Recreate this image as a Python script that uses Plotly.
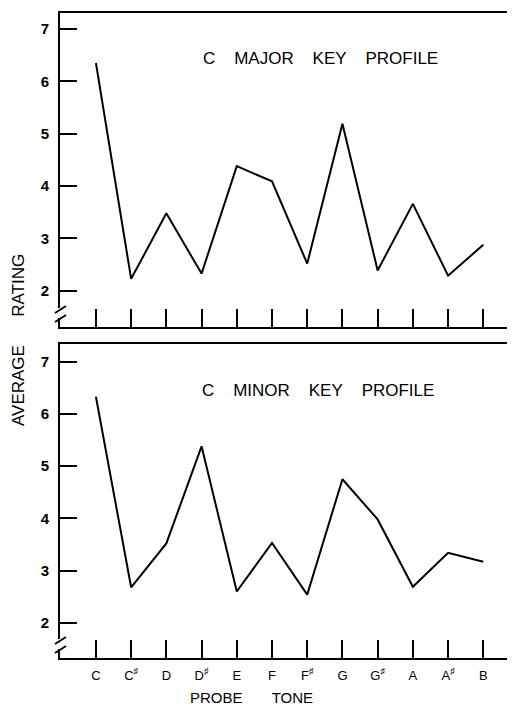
import plotly.graph_objects as go

tones = ["C", "C<sup>♯</sup>", "D", "D<sup>♯</sup>", "E", "F", "F<sup>♯</sup>", "G", "G<sup>♯</sup>", "A", "A<sup>♯</sup>", "B"]
major = [6.35, 2.23, 3.48, 2.33, 4.38, 4.09, 2.52, 5.19, 2.39, 3.66, 2.29, 2.88]
minor = [6.33, 2.68, 3.52, 5.38, 2.60, 3.53, 2.54, 4.75, 3.98, 2.69, 3.34, 3.17]
yticks = [2, 3, 4, 5, 6, 7]

OFF = 8  # page body margin
W, H = 515 - OFF, 705 - OFF
FONT = "Liberation Sans"
xpos = list(range(len(tones)))


def px_x(p):
    return (p - OFF) / W


def px_y(p):
    return 1 - (p - OFF) / H


fig = go.Figure()
fig.add_trace(go.Scatter(x=xpos, y=major, mode="lines", line=dict(color="black", width=2),
                         xaxis="x", yaxis="y", showlegend=False))
fig.add_trace(go.Scatter(x=xpos, y=minor, mode="lines", line=dict(color="black", width=2),
                         xaxis="x2", yaxis="y2", showlegend=False))

top_dom = [px_y(327), px_y(12.7)]
bot_dom = [px_y(658.3), px_y(344)]
xr = [-1.02, 11.9]

common_x = dict(range=xr, tickmode="array", tickvals=xpos, ticks="inside", ticklen=18,
                tickwidth=2, tickcolor="black", showline=True, linecolor="black", linewidth=2,
                mirror=True, showgrid=False, zeroline=False, domain=[px_x(60), 1])
common_y = dict(tickmode="array", tickvals=yticks, ticks="inside", ticklen=17, tickwidth=2,
                tickcolor="black", showline=True, linecolor="black", linewidth=2,
                showgrid=False, zeroline=False, ticklabelstandoff=6,
                tickfont=dict(family=FONT, size=15, color="black", weight="bold"))

fig.update_layout(
    width=W, height=H, margin=dict(l=0, r=0, t=0, b=0),
    paper_bgcolor="white", plot_bgcolor="white",
    xaxis=dict(**common_x, anchor="y", showticklabels=False),
    yaxis=dict(**common_y, range=[1.31, 7.31], domain=top_dom, anchor="x"),
    xaxis2=dict(**common_x, anchor="y2", ticktext=tones, showticklabels=True,
                tickfont=dict(family=FONT, size=13, color="black"), ticklabelstandoff=4),
    yaxis2=dict(**common_y, range=[1.32, 7.34], domain=bot_dom, anchor="x2"),
)

shapes = []
for (ya, yb) in [(304, 322), (635, 653)]:
    shapes.append(dict(type="rect", xref="paper", yref="paper",
                       x0=px_x(57), x1=px_x(63), y0=px_y(yb - 4), y1=px_y(ya + 4),
                       fillcolor="white", line=dict(width=0), layer="above"))
    shapes.append(dict(type="line", xref="paper", yref="paper",
                       x0=px_x(55), y0=px_y(ya + 9), x1=px_x(66), y1=px_y(ya + 2),
                       line=dict(color="black", width=2), layer="above"))
    shapes.append(dict(type="line", xref="paper", yref="paper",
                       x0=px_x(55), y0=px_y(yb), x1=px_x(66), y1=px_y(yb - 7),
                       line=dict(color="black", width=2), layer="above"))
fig.update_layout(shapes=shapes)

sp = "&nbsp;" * 4
ann_font = dict(family=FONT, size=17, color="black")
fig.add_annotation(x=px_x(320), y=px_y(58), xref="paper", yref="paper",
                   text=f"C{sp}MAJOR{sp}KEY{sp}PROFILE",
                   showarrow=False, font=ann_font, xanchor="center", yanchor="middle")
fig.add_annotation(x=px_x(318), y=px_y(390), xref="paper", yref="paper",
                   text=f"C{sp}MINOR{sp}KEY{sp}PROFILE",
                   showarrow=False, font=ann_font, xanchor="center", yanchor="middle")
fig.add_annotation(x=px_x(18), y=px_y(340), xref="paper", yref="paper",
                   text="AVERAGE" + "&nbsp;" * 6 + "RATING", textangle=-90,
                   showarrow=False, font=dict(family=FONT, size=17, color="black"),
                   xanchor="center", yanchor="middle")
fig.add_annotation(x=px_x(251), y=px_y(697), xref="paper", yref="paper",
                   text="PROBE" + "&nbsp;" * 7 + "TONE",
                   showarrow=False, font=dict(family=FONT, size=15, color="black"),
                   xanchor="center", yanchor="middle")

fig.write_html("out.html")
